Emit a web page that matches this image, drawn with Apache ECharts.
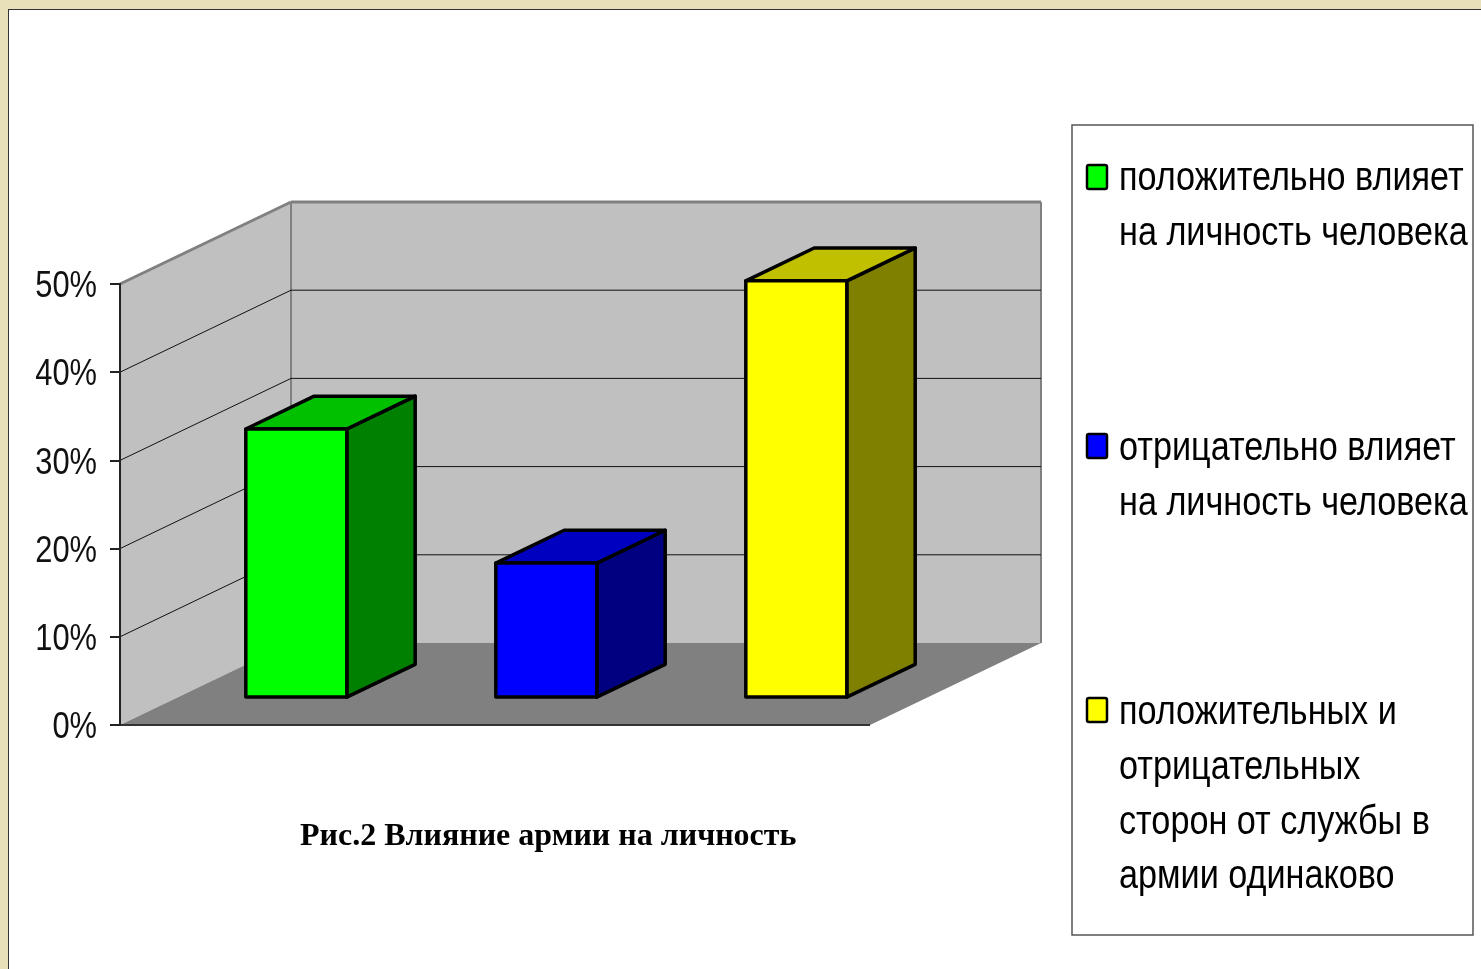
<!DOCTYPE html>
<html>
<head>
<meta charset="utf-8">
<style>
  html, body { margin: 0; padding: 0; background: #e8e0b8; overflow: hidden; }
  #panel { position: absolute; left: 8px; top: 9px; width: 1473px; height: 960px; background: #fff;
    border-left: 1px solid #333; border-top: 1px solid #333; box-sizing: border-box; }
  #main { position: absolute; left: 0; top: 0; width: 1481px; height: 969px; }
</style>
<script src="https://cdn.jsdelivr.net/npm/echarts@6/dist/echarts.min.js"></script>
</head>
<body>
<div id="panel"></div>
<div id="main"></div>
<script>
// 数据
const categories = ['положительно влияет', 'отрицательно влияет', 'положительных и отрицательных']
const values = [30.4, 15.2, 47.2]
const yTicks = [0, 10, 20, 30, 40, 50]
const legendLines = [
  ['положительно влияет', 'на личность человека'],
  ['отрицательно влияет', 'на личность человека'],
  ['положительных и', 'отрицательных', 'сторон от службы в', 'армии одинаково']
]
const chartTitle = 'Рис.2 Влияние армии на личность'

// 颜色
const frontColors = ['#00ff00', '#0000ff', '#ffff00']
const topColors = ['#00c000', '#0000c0', '#c0c000']
const sideColors = ['#008000', '#000080', '#808000']

// 透视偏移
const depthX = 171
const depthY = -82
const barWidth = 101
const barNearX = 0.3
const barNearY = 0.34
const barDepth = 0.4

// 窄字体：没有 Arial Narrow，用 Liberation Sans 横向压缩
const narrow = 0.834

function poly(points, fill, z2) {
  return { type: 'polygon', z2: z2 || 0, shape: { points }, style: { fill, stroke: 'none' } }
}

function seg(x1, y1, x2, y2, stroke, lineWidth, z2) {
  return { type: 'line', z2: z2 || 1, shape: { x1, y1, x2, y2 }, style: { stroke, lineWidth } }
}

// 背景墙 地板
function renderWalls(params, api) {
  const g = params.coordSys
  const x0 = g.x
  const x1 = g.x + g.width
  const yMax = api.coord([0, 50])[1]
  const y0 = api.coord([0, 0])[1]
  const wallGray = '#c0c0c0'
  const edge = '#808080'
  const children = [
    poly([[x0, y0], [x0, yMax], [x0 + depthX, yMax + depthY], [x0 + depthX, y0 + depthY]], wallGray),
    poly([[x0 + depthX, y0 + depthY], [x0 + depthX, yMax + depthY], [x1 + depthX, yMax + depthY], [x1 + depthX, y0 + depthY]], wallGray),
    poly([[x0, y0], [x0 + depthX, y0 + depthY], [x1 + depthX, y0 + depthY], [x1, y0]], '#808080'),
    seg(x0, yMax, x0 + depthX, yMax + depthY, edge, 3),
    seg(x0 + depthX, yMax + depthY, x1 + depthX, yMax + depthY, edge, 3),
    seg(x0 + depthX, yMax + depthY, x0 + depthX, y0 + depthY, edge, 2),
    seg(x1 + depthX, yMax + depthY, x1 + depthX, y0 + depthY, edge, 2),
    seg(x0, y0, x1, y0, '#333', 2, 2)
  ]
  yTicks.slice(1, -1).forEach(t => {
    const y = api.coord([0, t])[1]
    children.push(seg(x0, y, x0 + depthX, y + depthY, '#111', 1))
    children.push(seg(x0 + depthX, y + depthY, x1 + depthX, y + depthY, '#111', 1))
  })
  return { type: 'group', children }
}

// 立体柱子
function renderBars(params, api) {
  const i = api.value(0)
  const base = api.coord([i, 0])
  const top = api.coord([i, api.value(1)])
  const cx = base[0] + depthX * barNearX
  const left = cx - barWidth / 2
  const right = cx + barWidth / 2
  const yb = base[1] + depthY * barNearY
  const yt = top[1] + depthY * barNearY
  const dx = depthX * barDepth
  const dy = depthY * barDepth
  const line = { stroke: '#000', lineWidth: 3.5, lineJoin: 'round' }
  return {
    type: 'group',
    children: [
      { type: 'polygon', shape: { points: [[right, yb], [right, yt], [right + dx, yt + dy], [right + dx, yb + dy]] }, style: Object.assign({ fill: sideColors[i] }, line) },
      { type: 'polygon', shape: { points: [[left, yt], [left + dx, yt + dy], [right + dx, yt + dy], [right, yt]] }, style: Object.assign({ fill: topColors[i] }, line) },
      { type: 'polygon', shape: { points: [[left, yb], [left, yt], [right, yt], [right, yb]] }, style: Object.assign({ fill: frontColors[i] }, line) }
    ]
  }
}

// 刻度文字
function renderTickLabel(params, api) {
  const t = api.value(1)
  const p = api.coord([0, t])
  return {
    type: 'text',
    x: params.coordSys.x - 23,
    y: p[1] + 3,
    scaleX: narrow,
    style: {
      text: t + '%',
      font: '37px "Liberation Sans"',
      fill: '#111',
      textAlign: 'right',
      textVerticalAlign: 'middle'
    }
  }
}

// 图例
const legendFont = '41px "Liberation Sans"'
const legendStartY = [179, 449, 713]
const legendLineGap = 54.7
const legendSwatchY = [177, 446, 710]
const legendGraphics = [
  { type: 'rect', shape: { x: 1072, y: 125, width: 401, height: 810 }, style: { fill: '#fff', stroke: '#555', lineWidth: 1.5 } }
]
legendLines.forEach((lines, i) => {
  legendGraphics.push({
    type: 'rect',
    shape: { x: 1087, y: legendSwatchY[i] - 12, width: 20, height: 24, r: 2 },
    style: { fill: frontColors[i], stroke: '#000', lineWidth: 2.5 }
  })
  lines.forEach((text, j) => {
    legendGraphics.push({
      type: 'text',
      x: 1119,
      y: legendStartY[i] + j * legendLineGap,
      scaleX: narrow,
      style: { text, font: legendFont, fill: '#000', textAlign: 'left', textVerticalAlign: 'middle' }
    })
  })
})

const dom = document.querySelector('#main')
const myChart = echarts.init(dom, null, { renderer: 'canvas' })
const option = {
  animation: false,
  backgroundColor: 'transparent',
  title: {
    text: chartTitle,
    left: 295,
    top: 816,
    textStyle: { fontFamily: 'Liberation Serif', fontWeight: 'bold', fontSize: 32, color: '#000' }
  },
  grid: { left: 120, top: 284, width: 750, height: 441 },
  xAxis: {
    type: 'category',
    data: categories,
    axisLine: { show: false },
    axisTick: { show: false },
    axisLabel: { show: false }
  },
  yAxis: {
    type: 'value',
    min: 0,
    max: 50,
    interval: 10,
    z: 5,
    splitLine: { show: false },
    axisLine: { show: true, lineStyle: { color: '#222', width: 2 } },
    axisTick: { show: true, length: 10, lineStyle: { color: '#222', width: 2 } },
    axisLabel: { show: false }
  },
  series: [
    { type: 'custom', z: 1, silent: true, clip: false, renderItem: renderWalls, data: [[0, 0]] },
    {
      type: 'custom',
      z: 3,
      clip: false,
      renderItem: renderBars,
      encode: { x: 0, y: 1 },
      data: values.map((v, i) => [i, v])
    },
    {
      type: 'custom',
      z: 4,
      silent: true,
      clip: false,
      renderItem: renderTickLabel,
      encode: { x: 0, y: 1 },
      data: yTicks.map(t => [0, t])
    }
  ],
  graphic: legendGraphics
}
myChart.setOption(option)
</script>
</body>
</html>
